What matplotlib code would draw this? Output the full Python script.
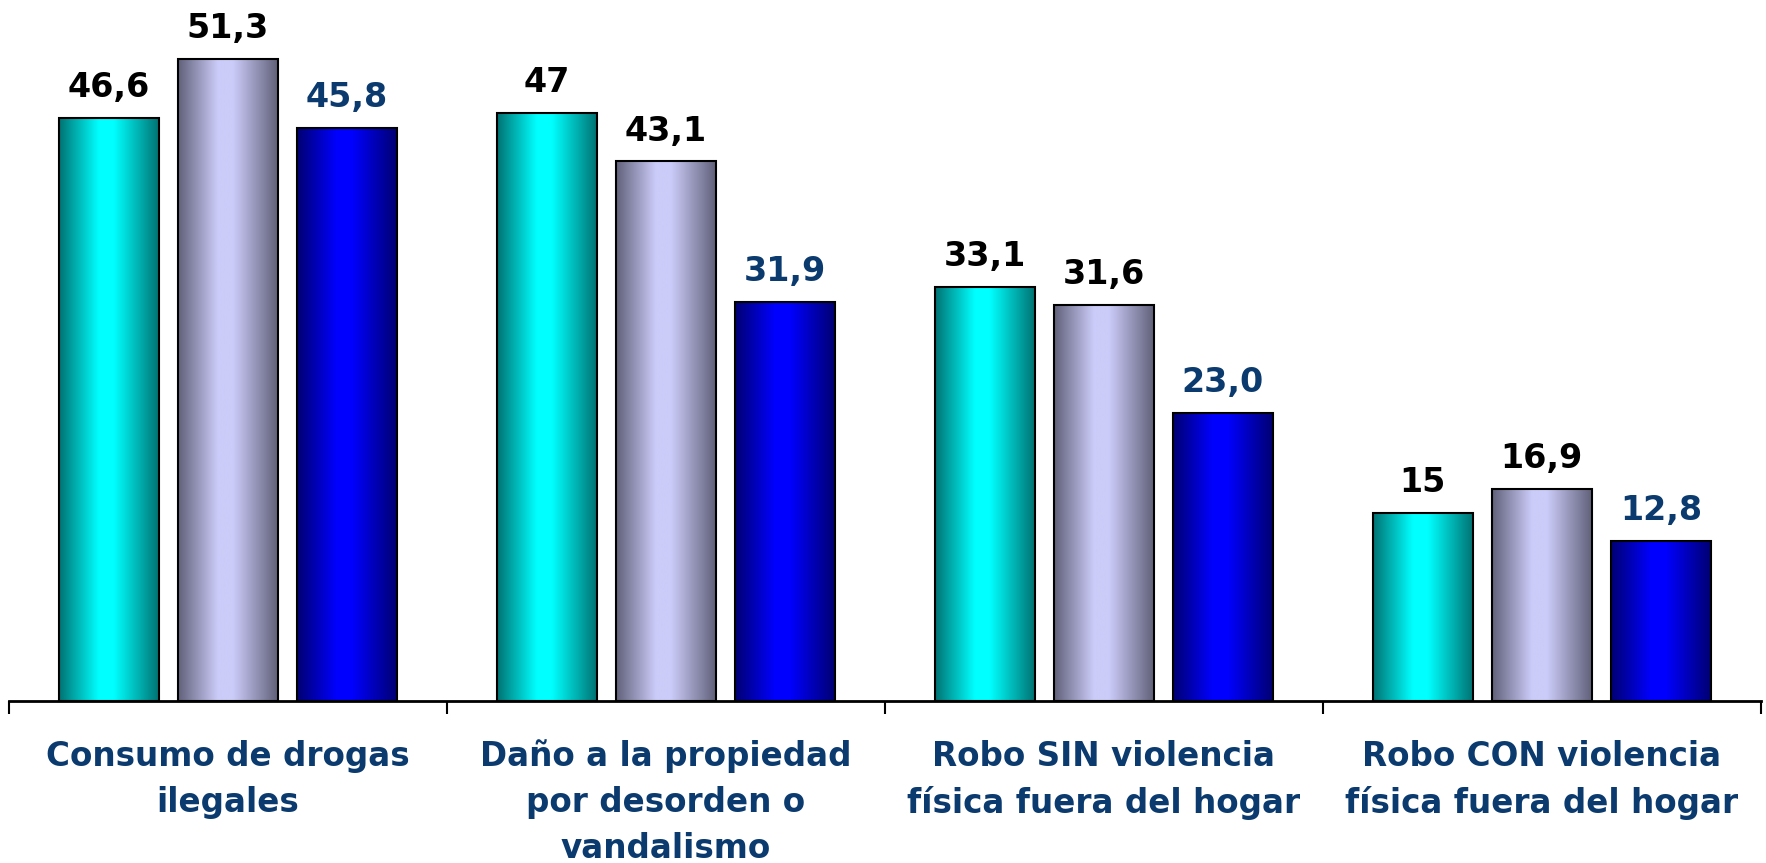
import numpy as np
import matplotlib
matplotlib.use("Agg")
import matplotlib.pyplot as plt
from matplotlib.colors import LinearSegmentedColormap

categories = ["Consumo de drogas\nilegales",
              "Daño a la propiedad\npor desorden o\nvandalismo",
              "Robo SIN violencia\nfísica fuera del hogar",
              "Robo CON violencia\nfísica fuera del hogar"]
serie_a = [46.6, 47, 33.1, 15]
serie_b = [51.3, 43.1, 31.6, 16.9]
serie_c = [45.8, 31.9, 23.0, 12.8]
labels_a = ["46,6", "47", "33,1", "15"]
labels_b = ["51,3", "43,1", "31,6", "16,9"]
labels_c = ["45,8", "31,9", "23,0", "12,8"]

series = [serie_a, serie_b, serie_c]
labels = [labels_a, labels_b, labels_c]
# dark edge / light centre of each bar gradient
grads = [((0.0, 0.45, 0.45), (0.0, 1.0, 1.0)),
         ((0.38, 0.38, 0.48), (0.80, 0.80, 0.98)),
         ((0.0, 0.0, 0.45), (0.0, 0.0, 1.0))]
text_colors = ["black", "black", "#0a3a6e"]
navy = "#0a3a6e"

fig = plt.figure(figsize=(17.66, 8.63), dpi=100)
ax = fig.add_axes([0.0051, 0.188, 0.9919, 0.812])

x = np.arange(len(categories))
width = 0.228
step = 0.272

for i, vals in enumerate(series):
    pos = x + (i - 1) * step
    bars = ax.bar(pos, vals, width, facecolor="none", edgecolor="black",
                  linewidth=1.5, zorder=3)
    dark, light = grads[i]
    cmap = LinearSegmentedColormap.from_list(
        "g%d" % i, [(0, dark), (0.4, light), (0.55, light), (1, dark)])
    grad = np.linspace(0, 1, 256).reshape(1, -1)
    for b, v, lab in zip(bars, vals, labels[i]):
        bx, bw = b.get_x(), b.get_width()
        im = ax.imshow(grad, cmap=cmap, aspect="auto",
                       extent=[bx, bx + bw, 0, v], zorder=2)
        im.set_clip_path(b)
        ax.annotate(lab, (b.get_x() + bw / 2, v), xytext=(0, 15),
                    textcoords="offset points", ha="center", va="baseline",
                    fontsize=24, fontweight="bold", color=text_colors[i])

ax.set_xlim(-0.5, len(categories) - 0.5)
ax.set_ylim(0, 56)
ax.set_yticks([])
for s in ["top", "right", "left"]:
    ax.spines[s].set_visible(False)
ax.spines["bottom"].set_linewidth(2)

ax.set_xticks(x)
ax.set_xticklabels(categories, fontsize=23.5, fontweight="bold", color=navy,
                   linespacing=1.5, va="top")
ax.tick_params(axis="x", which="major", length=0, pad=28)
ax.set_xticks(np.arange(len(categories) + 1) - 0.5, minor=True)
ax.tick_params(axis="x", which="minor", length=9, width=1.5, direction="out")

plt.savefig("out.png", dpi=100)
